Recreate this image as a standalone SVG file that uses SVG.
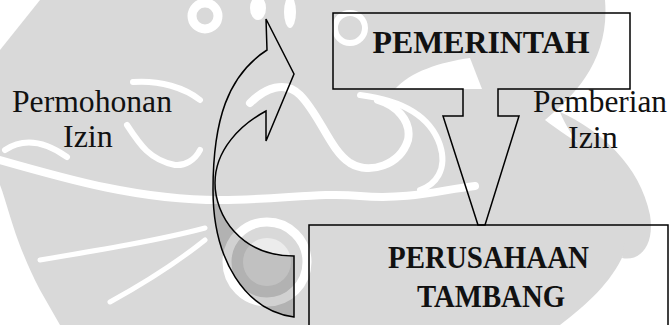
<svg xmlns="http://www.w3.org/2000/svg" width="669" height="325" viewBox="0 0 669 325">
  <style>
    .wm { fill: none; stroke: #ffffff; stroke-linecap: round; }
    .wmf { fill: #ffffff; stroke: none; }
    .shape { fill: none; stroke: #000000; stroke-width: 1.5; stroke-linejoin: miter; }
    .title { font-family: "Liberation Serif", "Times New Roman", serif; font-weight: bold; font-size: 32px; fill: #111111; text-anchor: middle; }
    .label { font-family: "Liberation Serif", "Times New Roman", serif; font-size: 32px; fill: #111111; }
  </style>

  <!-- watermark background (approximation) -->
  <g id="watermark">
    <rect x="0" y="0" width="669" height="325" fill="#d9d9d9"/>
    <polygon class="wmf" points="0,0 40,0 0,50"/>
    <path class="wmf" d="M605,0 H669 V325 H560 C600,295 640,255 628,205 C615,160 570,140 545,120 C575,95 610,60 605,0 Z"/>
    <path fill="#d9d9d9" d="M560,112 C600,130 640,165 650,215 C655,245 640,262 622,258 C630,230 615,190 590,160 C575,140 565,125 560,112 Z"/>
    <path class="wmf" d="M0,185 C8,205 14,240 40,290 L60,325 H0 Z"/>
    <path class="wmf" d="M395,89 C410,72 440,62 470,58 L482,89 Z"/>
    <circle cx="205" cy="16" r="13" class="wm" stroke-width="9"/>
    <ellipse cx="258" cy="8" rx="8" ry="12" class="wmf"/>
    <ellipse cx="290" cy="12" rx="6" ry="16" class="wmf"/>
    <circle cx="350" cy="28" r="15" class="wm" stroke-width="6"/>
    <path class="wm" stroke-width="8" d="M0,160 C70,180 140,200 220,200 C280,200 320,192 360,196 C410,200 440,190 475,186"/>
    <path class="wm" stroke-width="8" d="M250,103 C265,88 285,80 300,95 C320,115 330,150 350,163 C370,175 400,165 408,140 C412,120 395,105 378,100"/>
    <path class="wm" stroke-width="6" d="M360,95 C400,100 430,115 440,145 C448,170 435,185 420,190"/>
    <path class="wm" stroke-width="6" d="M5,150 C20,140 40,138 67,157"/>
    <path class="wm" stroke-width="6" d="M133,82 C160,80 185,88 200,100"/>
    <path class="wm" stroke-width="6" d="M127,125 C140,145 150,160 175,165 C185,166 195,160 200,150"/>
    <path class="wm" stroke-width="5" d="M40,260 C100,250 160,240 205,228"/>
    <path class="wm" stroke-width="5" d="M110,302 C150,280 180,260 205,240"/>
    <circle cx="267" cy="262" r="40" class="wm" stroke-width="9"/>
    <circle cx="267" cy="262" r="24" fill="#ececec"/>
  </g>

  <g id="node-pemerintah">
    <polygon class="shape" points="333,13 630,13 630,89 498,89 498,116 519,116 485,225 478,225 443,116 463,116 463,89 333,89"/>
    <text class="title" x="481" y="53" textLength="217" lengthAdjust="spacingAndGlyphs">PEMERINTAH</text>
  </g>

  <g id="node-perusahaan">
    <rect class="shape" x="309" y="225" width="359" height="120"/>
    <text class="title" x="488.5" y="268" textLength="201" lengthAdjust="spacingAndGlyphs">PERUSAHAAN</text>
    <text class="title" x="491" y="307" textLength="148" lengthAdjust="spacingAndGlyphs">TAMBANG</text>
  </g>

  <g id="connectors">
    <path fill="#000000" fill-opacity="0.18" stroke="none" d="M215,183 C215,215 240,256 294,256 L294,317 C245,310 213,260 213,190 Z"/>
    <path class="shape" d="M294,317 C245,310 213,260 213,190 C213,120 228,75 267,50 L266,19 L294,74 L266,141 L266,111 C240,125 215,150 215,183 C215,215 240,256 294,256 Z"/>
    <text class="label" x="12" y="112" textLength="160" lengthAdjust="spacingAndGlyphs">Permohonan</text>
    <text class="label" x="63" y="147">Izin</text>
    <text class="label" x="533" y="112" textLength="134" lengthAdjust="spacingAndGlyphs">Pemberian</text>
    <text class="label" x="568" y="148">Izin</text>
  </g>
</svg>
